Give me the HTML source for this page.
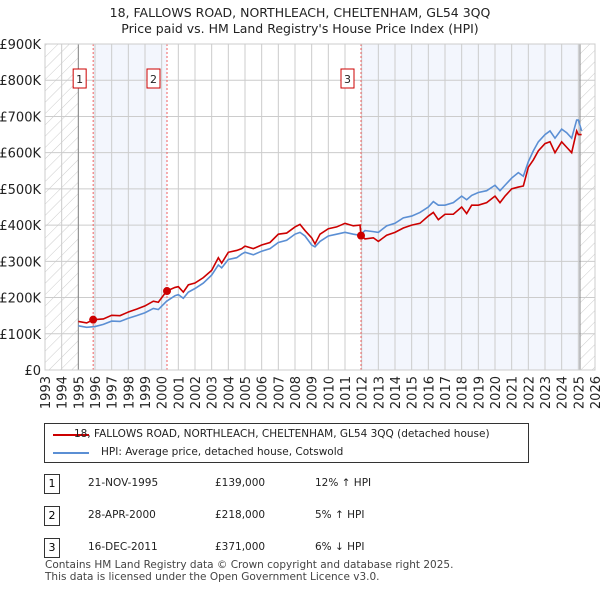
<!DOCTYPE html>
<html><head><meta charset="utf-8"><style>
body{margin:0;background:#fff;font-family:"DejaVu Sans","Liberation Sans",sans-serif;}
#wrap{position:relative;width:600px;height:590px;overflow:hidden;}
.t{position:absolute;font-size:12px;color:#222;white-space:nowrap;}
svg text{font-family:"DejaVu Sans","Liberation Sans",sans-serif;}
</style></head><body><div id="wrap">
<svg id="svg" width="600" height="590" style="position:absolute;left:0;top:0">
<defs><pattern id="hatch" width="8" height="8" patternUnits="userSpaceOnUse" patternTransform="rotate(45)"><line x1="0" y1="0" x2="0" y2="8" stroke="#ccc" stroke-width="1"/></pattern></defs>
<text x="300" y="17" text-anchor="middle" font-size="12.5" fill="#222">18, FALLOWS ROAD, NORTHLEACH, CHELTENHAM, GL54 3QQ</text>
<text x="300" y="33" text-anchor="middle" font-size="12.5" fill="#222">Price paid vs. HM Land Registry's House Price Index (HPI)</text>
<g id="plot"></g>
</svg>
<div style="position:absolute;left:44px;top:423px;width:483px;height:38px;border:1px solid #333;">
<div style="position:absolute;left:8px;top:10px;width:36px;height:2px;background:#cc0000"></div>
<div class="t" style="left:29px;top:4px;font-size:10.5px">18, FALLOWS ROAD, NORTHLEACH, CHELTENHAM, GL54 3QQ (detached house)</div>
<div style="position:absolute;left:8px;top:28px;width:36px;height:2px;background:#5b8fd4"></div>
<div class="t" style="left:56px;top:22px;font-size:10.5px">HPI: Average price, detached house, Cotswold</div>
</div>
<div id="rows"></div>
<div class="t" style="left:45px;top:559px;font-size:10.5px;color:#444">Contains HM Land Registry data © Crown copyright and database right 2025.</div>
<div class="t" style="left:45px;top:571px;font-size:10.5px;color:#444">This data is licensed under the Open Government Licence v3.0.</div>
</div>
<script>
const yTicks=[0,100,200,300,400,500,600,700,800,900];
const yTickLabels=["£0","£100K","£200K","£300K","£400K","£500K","£600K","£700K","£800K","£900K"];
const xYears=[1993,1994,1995,1996,1997,1998,1999,2000,2001,2002,2003,2004,2005,2006,2007,2008,2009,2010,2011,2012,2013,2014,2015,2016,2017,2018,2019,2020,2021,2022,2023,2024,2025,2026];
const hpiDates=[1995.0,1995.5,1996.0,1996.5,1997.0,1997.5,1998.0,1998.5,1999.0,1999.5,1999.8,2000.3,2000.8,2001.0,2001.3,2001.6,2002.0,2002.5,2003.0,2003.4,2003.6,2004.0,2004.5,2004.8,2005.0,2005.5,2006.0,2006.5,2007.0,2007.5,2008.0,2008.3,2008.6,2009.0,2009.2,2009.5,2010.0,2010.5,2011.0,2011.5,2011.9,2012.2,2012.7,2013.0,2013.5,2014.0,2014.5,2015.0,2015.5,2016.0,2016.3,2016.6,2017.0,2017.5,2018.0,2018.3,2018.6,2019.0,2019.5,2020.0,2020.3,2020.6,2021.0,2021.4,2021.7,2022.0,2022.3,2022.6,2023.0,2023.3,2023.6,2024.0,2024.3,2024.6,2024.9,2025.0,2025.2];
const hpiValues=[122,118,120,126,135,134,143,150,158,170,167,190,205,208,198,215,225,240,262,290,282,305,310,320,325,318,328,335,352,358,375,380,370,345,340,355,370,375,380,375,372,385,382,380,398,405,420,425,435,450,465,455,455,462,480,470,482,490,495,510,495,510,530,545,535,575,605,630,650,660,640,665,655,640,690,690,660];
const priceDates=[1995.0,1995.5,1995.9,1996.5,1997.0,1997.5,1998.0,1998.5,1999.0,1999.5,1999.8,2000.3,2000.8,2001.0,2001.3,2001.6,2002.0,2002.5,2003.0,2003.4,2003.6,2004.0,2004.5,2004.8,2005.0,2005.5,2006.0,2006.5,2007.0,2007.5,2008.0,2008.3,2008.6,2009.0,2009.2,2009.5,2010.0,2010.5,2011.0,2011.5,2011.9,2011.96,2012.2,2012.7,2013.0,2013.5,2014.0,2014.5,2015.0,2015.5,2016.0,2016.3,2016.6,2017.0,2017.5,2018.0,2018.3,2018.6,2019.0,2019.5,2020.0,2020.3,2020.6,2021.0,2021.4,2021.7,2022.0,2022.3,2022.6,2023.0,2023.3,2023.6,2024.0,2024.3,2024.6,2024.9,2025.0,2025.2];
const priceValues=[134,130,139,141,151,150,160,168,177,190,187,218,228,230,215,235,240,255,275,310,295,325,330,335,342,335,345,352,375,378,395,402,385,365,348,375,390,395,405,398,400,371,362,365,355,372,380,392,400,405,425,435,415,430,430,450,432,455,455,462,480,462,480,500,505,508,560,580,605,625,630,600,630,615,600,660,650,650];
const saleDates=[1995.89,2000.32,2011.96];
const saleValues=[139,218,371];
const saleLabels=["1","2","3"];
const saleDateText=["21-NOV-1995","28-APR-2000","16-DEC-2011"];
const salePriceText=["£139,000","£218,000","£371,000"];
const saleHpiText=["12% ↑ HPI","5% ↑ HPI","6% ↓ HPI"];

const L=45,R=595,T=44,B=370;
const x=v=>L+(v-1993)/(2026-1993)*(R-L);
const y=v=>B-v/900*(B-T);
const NS="http://www.w3.org/2000/svg";
const g=document.getElementById('plot');
function mk(tag,attrs,parent){const e=document.createElementNS(NS,tag);for(const k in attrs)e.setAttribute(k,attrs[k]);(parent||g).appendChild(e);return e;}
let e;
e=mk('rect',{x:x(saleDates[0]),y:T,width:x(saleDates[1])-x(saleDates[0]),height:B-T,fill:'#f3f6fd'});


e=mk('rect',{x:x(saleDates[2]),y:T,width:x(2025.1)-x(saleDates[2]),height:B-T,fill:'#f3f6fd'});


e=mk('rect',{x:L,y:T,width:x(1995)-L,height:B-T,fill:'url(#hatch)'});


e=mk('rect',{x:x(2025.1),y:T,width:R-x(2025.1),height:B-T,fill:'url(#hatch)'});


yTicks.forEach((v,i)=>{
 e=mk('line',{x1:L,x2:R,y1:y(v),y2:y(v),stroke:'#ccc','stroke-width':1});
 
 
 e=mk('text',{x:L-4,y:y(v)+5,'text-anchor':'end','font-size':13,fill:'#222'});
 e.textContent=yTickLabels[i];
 
 
});
xYears.forEach(v=>{
 e=mk('line',{x1:x(v),x2:x(v),y1:T,y2:B,stroke:'#ccc','stroke-width':1});
 
 
 e=mk('text',{x:0,y:0,'text-anchor':'end','font-size':13,fill:'#222',transform:`translate(${x(v)+5},${B+6}) rotate(-90)`});
 e.textContent=v;
 
 
});
e=mk('line',{x1:x(1995),x2:x(1995),y1:T,y2:B,stroke:'#888','stroke-width':1});


e=mk('line',{x1:x(2025.1),x2:x(2025.1),y1:T,y2:B,stroke:'#888','stroke-width':1});


saleDates.forEach((d,i)=>{
 e=mk('line',{x1:x(d),x2:x(d),y1:T,y2:B,stroke:'#f06060','stroke-width':1,'stroke-dasharray':'2,2'});
 
 
});
e=mk('polyline',{points:hpiDates.map((d,i)=>x(d)+','+y(hpiValues[i])).join(' '),fill:'none',stroke:'#5b8fd4','stroke-width':1.6});


e=mk('polyline',{points:priceDates.map((d,i)=>x(d)+','+y(priceValues[i])).join(' '),fill:'none',stroke:'#cc0000','stroke-width':1.6});


saleDates.forEach((d,i)=>{
 e=mk('circle',{cx:x(d),cy:y(saleValues[i]),r:4,fill:'#cc0000'});
 
 
 e=mk('rect',{x:x(d)-20,y:69,width:13,height:19,fill:'#fff',stroke:'#cc0000','stroke-width':1});
 
 
 e=mk('text',{x:x(d)-13.5,y:83,'text-anchor':'middle','font-size':11,fill:'#222'});
 e.textContent=saleLabels[i];
 
 
});
e=mk('rect',{x:L,y:T,width:R-L,height:B-T,fill:'none',stroke:'#ccc','stroke-width':1});


const rows=document.getElementById('rows');
saleDates.forEach((d,i)=>{
 const top=474+i*32;
 const r=document.createElement('div');
 r.style.cssText=`position:absolute;left:44px;top:${top}px;width:14px;height:18px;border:1px solid #333;font-size:11px;text-align:center;line-height:18px`;
 r.textContent=saleLabels[i];
 
 
 rows.appendChild(r);
 [[88,saleDateText[i],'sale-row-date'],[215,salePriceText[i],'sale-row-price'],[315,saleHpiText[i],'sale-row-hpi']].forEach(c=>{
  const t=document.createElement('div');
  t.className='t';t.style.left=c[0]+'px';t.style.top=(top+3)+'px';t.style.fontSize='10.5px';
  t.textContent=c[1];
  
  
  rows.appendChild(t);
 });
});
</script></body></html>
